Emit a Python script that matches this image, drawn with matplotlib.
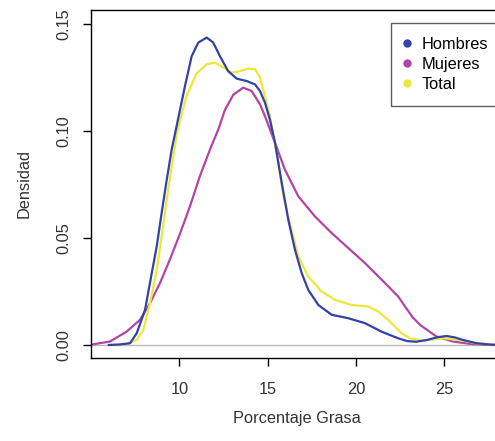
import numpy as np
import matplotlib
matplotlib.use('Agg')
import matplotlib.pyplot as plt
from matplotlib.lines import Line2D

plt.rcParams['font.family'] = ['Liberation Sans', 'DejaVu Sans']

# Density curves (x = % grasa, y = densidad)
hombres_x = [6.0, 6.6, 7.2, 7.58, 8.05, 8.43, 8.71, 8.99, 9.28, 9.56, 9.8, 10.31, 10.69,
             11.07, 11.54, 11.91, 12.29, 12.76, 13.24, 13.8, 14.28, 14.56, 14.84, 15.12,
             15.41, 15.79, 16.16, 16.54, 16.92, 17.29, 17.86, 18.62, 19.56, 20.5, 21.45,
             22.39, 22.9, 23.4, 24.0, 24.6, 25.13, 25.6, 26.07, 26.83, 27.7, 28.5]
hombres_y = [0.0, 0.0002, 0.0008, 0.0055, 0.0164, 0.0336, 0.046, 0.0617, 0.0773, 0.0914,
             0.1008, 0.121, 0.135, 0.1414, 0.1437, 0.1414, 0.135, 0.128, 0.1245, 0.1234,
             0.1218, 0.1187, 0.1133, 0.1054, 0.0945, 0.0758, 0.0586, 0.0445, 0.0336,
             0.0258, 0.0187, 0.0141, 0.0125, 0.0102, 0.0062, 0.0031, 0.0018, 0.0015,
             0.0023, 0.0036, 0.0042, 0.0035, 0.0023, 0.0008, 0.0001, 0.0]

mujeres_x = [4.9, 6.06, 7.0, 7.76, 8.33, 8.9, 9.46, 10.03, 10.6, 11.16, 11.73, 12.2,
             12.58, 13.05, 13.61, 14.09, 14.56, 14.84, 15.41, 15.97, 16.73, 17.67, 18.62,
             19.56, 20.5, 21.45, 22.39, 22.77, 23.2, 23.62, 24.56, 25.5, 26.45, 27.5, 28.5]
mujeres_y = [0.0, 0.0016, 0.0062, 0.0117, 0.0195, 0.029, 0.040, 0.052, 0.065, 0.079,
             0.0914, 0.1008, 0.110, 0.117, 0.1203, 0.1187, 0.1125, 0.107, 0.0945, 0.082,
             0.0695, 0.0601, 0.0523, 0.0453, 0.0383, 0.0305, 0.0226, 0.018, 0.013,
             0.0094, 0.0039, 0.0016, 0.0005, 0.0001, 0.0]

total_x = [6.3, 7.0, 7.6, 7.95, 8.33, 8.71, 8.99, 9.28, 9.56, 9.9, 10.4, 10.97, 11.54,
           12.0, 12.48, 12.96, 13.43, 13.9, 14.28, 14.56, 14.84, 15.12, 15.5, 15.88,
           16.3, 16.73, 17.29, 18.05, 18.8, 19.75, 20.69, 21.26, 21.82, 22.58, 23.05,
           23.8, 24.4, 24.94, 25.88, 26.8, 27.8, 28.5]
total_y = [0.0, 0.0005, 0.0025, 0.007, 0.0195, 0.035, 0.0508, 0.068, 0.0836, 0.1008,
           0.1163, 0.127, 0.1312, 0.132, 0.1297, 0.1273, 0.128, 0.1292, 0.1289, 0.125,
           0.1163, 0.107, 0.090, 0.070, 0.055, 0.0414, 0.032, 0.025, 0.0211, 0.0187,
           0.018, 0.0156, 0.0117, 0.0055, 0.0031, 0.002, 0.0026, 0.0031, 0.0023,
           0.0008, 0.0001, 0.0]

labels = ['Hombres', 'Mujeres', 'Total']
colors = ['#3242A8', '#B244A6', '#ECE83A']
xticks = [10, 15, 20, 25]
yticks = [0.00, 0.05, 0.10, 0.15]

fig = plt.figure(figsize=(4.95, 4.41), dpi=100)
ax = fig.add_axes([91/495, 83/441, 412/495, 348/441])

ax.axhline(0, color='#BBBBBB', lw=1, zorder=1)
ax.plot(hombres_x, hombres_y, color=colors[0], lw=1.6, zorder=3,
        solid_joinstyle='round')
ax.plot(mujeres_x, mujeres_y, color=colors[1], lw=1.6, zorder=2,
        solid_joinstyle='round')
ax.plot(total_x, total_y, color=colors[2], lw=1.6, zorder=2,
        solid_joinstyle='round')

ax.set_xlim(4.99, 28.32)
ax.set_ylim(-0.0061, 0.1566)
ax.set_xticks(xticks)
ax.set_xticklabels([str(t) for t in xticks])
ax.set_yticks(yticks)
ax.set_yticklabels(['%.2f' % t for t in yticks], rotation=90, va='center')
ax.tick_params(axis='both', direction='out', length=6, width=1, labelsize=11.8,
               labelcolor='#333333')
ax.tick_params(axis='x', pad=11)
ax.tick_params(axis='y', pad=8)
for s in ax.spines.values():
    s.set_linewidth(1)

ax.set_xlabel('Porcentaje Grasa', fontsize=11.8, color='#333333', labelpad=10)
ax.set_ylabel('Densidad', fontsize=11.8, color='#333333', labelpad=18)

handles = [Line2D([], [], ls='none', marker='o', markersize=5, color=c) for c in colors]
leg = ax.legend(handles, labels, loc='upper left', bbox_to_anchor=(300/412, 0.9626),
                borderaxespad=0, fontsize=11.8, frameon=True, fancybox=False,
                labelspacing=0.3, handlelength=0.2, handletextpad=0.8,
                borderpad=0.85)
leg.get_frame().set_edgecolor('#333333')
leg.get_frame().set_linewidth(1)

fig.savefig('out.png', dpi=100)
